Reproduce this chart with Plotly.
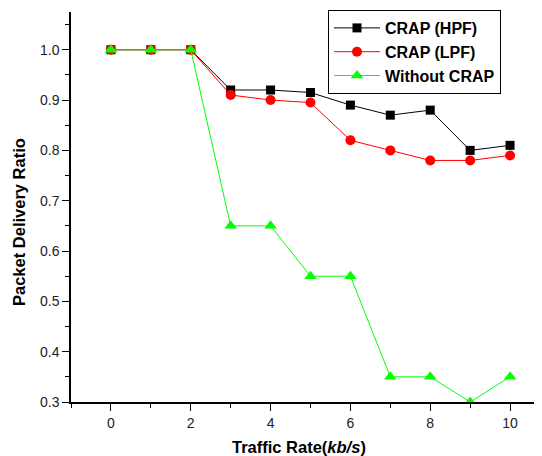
import plotly.graph_objects as go

traffic_rate = [0, 1, 2, 3, 4, 5, 6, 7, 8, 9, 10]
crap_hpf = [1.0, 1.0, 1.0, 0.92, 0.92, 0.915, 0.89, 0.87, 0.88, 0.80, 0.81]
crap_lpf = [1.0, 1.0, 1.0, 0.91, 0.90, 0.895, 0.82, 0.80, 0.78, 0.78, 0.79]
without_crap = [1.0, 1.0, 1.0, 0.65, 0.65, 0.55, 0.55, 0.35, 0.35, 0.30, 0.35]

series = [
    ("CRAP (HPF)", crap_hpf, "#000000", "square", 9),
    ("CRAP (LPF)", crap_lpf, "#ff0000", "circle", 10),
    ("Without CRAP", without_crap, "#00ff00", "triangle-up", 11),
]

FONT = "Liberation Sans, Arial, sans-serif"
OFF = 8  # browser body margin
W, H = 542 - OFF, 456 - OFF
L, T, B, R = 71 - OFF, 12 - OFF, H - (402 - OFF), 0
plot_w = W - L - R
plot_h = H - T - B

def px_x(x):  # reference pixel -> paper x
    return (x - OFF - L) / plot_w

def px_y(y):  # reference pixel -> paper y
    return (H - B - (y - OFF)) / plot_h

fig = go.Figure()
for name, ys, color, sym, size in series:
    fig.add_trace(go.Scatter(
        x=traffic_rate, y=ys, name=name, mode="lines+markers",
        line=dict(color=color, width=1),
        marker=dict(symbol=sym, size=size, color=color),
    ))

fig.update_layout(
    width=W, height=H,
    margin=dict(l=L, r=R, t=T, b=B, pad=0, autoexpand=False),
    paper_bgcolor="white", plot_bgcolor="white",
    font=dict(family=FONT, size=14, color="#222"),
    showlegend=True,
    legend=dict(
        x=px_x(328), y=px_y(10), xanchor="left", yanchor="top",
        bordercolor="#000", borderwidth=1, bgcolor="white",
        font=dict(size=16, color="#000", family=FONT, weight="bold"),
        tracegroupgap=0, itemwidth=46,
    ),
    annotations=[
        dict(text="<b>Traffic Rate(<i>kb/s</i>)</b>", x=px_x(299), xref="paper", xanchor="center",
             y=px_y(447), yref="paper", yanchor="middle", showarrow=False,
             font=dict(size=16.5, color="#000")),
        dict(text="<b>Packet Delivery Ratio</b>", textangle=-90, xref="paper", yref="paper",
             x=px_x(19), y=px_y(222), xanchor="center", yanchor="middle", showarrow=False,
             font=dict(size=16.5, color="#000")),
    ],
)

fig.update_xaxes(
    range=[-1, 10.8], tickvals=[0, 2, 4, 6, 8, 10], automargin=False,
    showline=True, linecolor="#000", linewidth=1.5,
    ticks="outside", ticklen=7, tickcolor="#000",
    minor=dict(ticks="outside", ticklen=4, tickcolor="#000", dtick=1, tick0=0),
    showgrid=False, zeroline=False,
)
fig.update_yaxes(
    range=[0.3, 1.075], tickvals=[0.3, 0.4, 0.5, 0.6, 0.7, 0.8, 0.9, 1.0],
    tickformat=".1f", automargin=False,
    showline=True, linecolor="#000", linewidth=1.5,
    ticks="outside", ticklen=7, tickcolor="#000",
    minor=dict(ticks="outside", ticklen=4, tickcolor="#000", dtick=0.05, tick0=0.3),
    showgrid=False, zeroline=False,
)

fig.write_html("out.html")
